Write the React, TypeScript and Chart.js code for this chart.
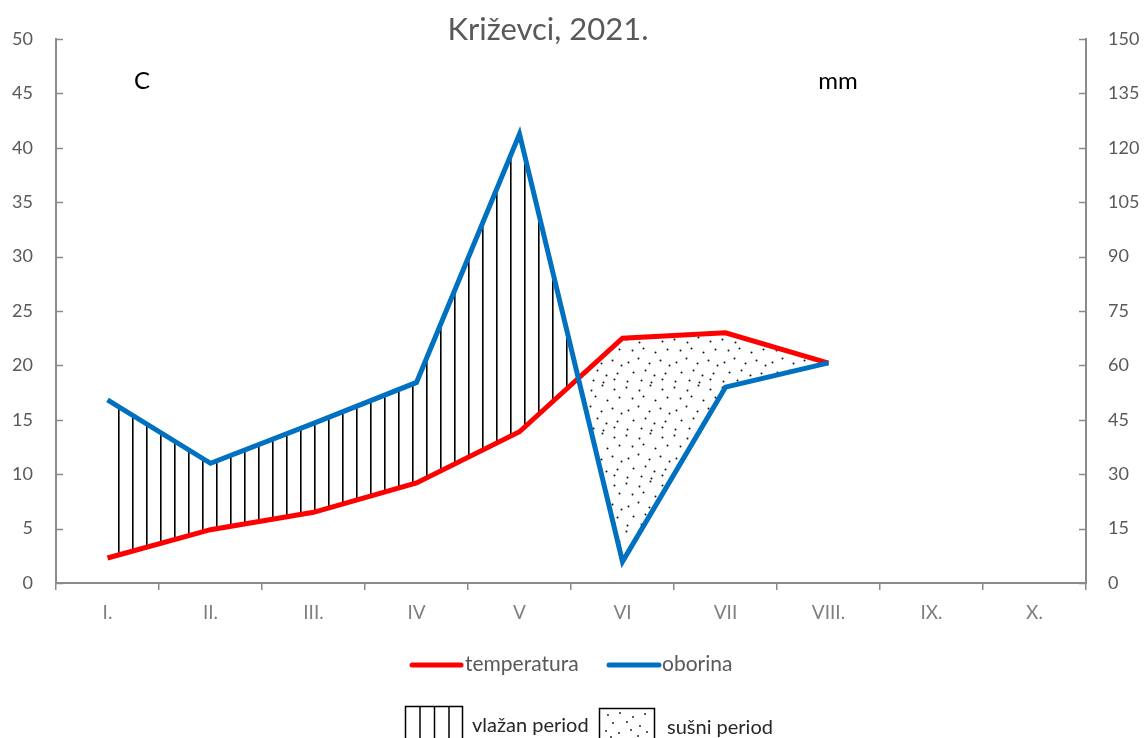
import React, { useEffect, useRef } from "react";
import { Chart, registerables } from "chart.js";

Chart.register(...registerables);

const months = ["I.", "II.", "III.", "IV", "V", "VI", "VII", "VIII.", "IX.", "X."];
const temperature = [2.3, 4.9, 6.5, 9.2, 13.9, 22.5, 23.0, 20.2, null, null];
const precipitation = [50.5, 33, 44, 55.3, 123.8, 5.9, 54, 60.7, null, null];
const tempAxis = { min: 0, max: 50, step: 5 };
const precAxis = { min: 0, max: 150, step: 15 };

const titleText = "Križevci, 2021.";
const leftUnit = "C";
const rightUnit = "mm";
const seriesNames = ["temperatura", "oborina"];
const periodNames = ["vlažan period", "sušni period"];

const FONT = "Lato, 'Open Sans', sans-serif";
const RED = "#FF0000";
const BLUE = "#0070C0";
const AXIS = "#8a8a8a";

const DOTS: [number, number][] = [
  [2, 3], [15, 6], [26, 1], [38, 5],
  [8, 14], [19, 12], [31, 16], [43, 13],
  [4, 26], [14, 22], [25, 27], [36, 24], [45, 29],
  [9, 36], [21, 34], [30, 39], [41, 37],
  [3, 45], [17, 44], [27, 46], [38, 43],
];

function makeLinePattern(ctx: CanvasRenderingContext2D) {
  const c = document.createElement("canvas");
  c.width = 14;
  c.height = 4;
  const g = c.getContext("2d")!;
  g.fillStyle = "#000";
  g.fillRect(6, 0, 1.6, 4);
  return ctx.createPattern(c, "repeat")!;
}

function makeDotPattern(ctx: CanvasRenderingContext2D) {
  const c = document.createElement("canvas");
  c.width = 48;
  c.height = 48;
  const g = c.getContext("2d")!;
  g.fillStyle = "#111";
  for (const [x, y] of DOTS) {
    g.beginPath();
    g.arc(x + 0.5, y + 0.5, 1, 0, Math.PI * 2);
    g.fill();
  }
  return ctx.createPattern(c, "repeat")!;
}

const decorPlugin = {
  id: "decor",
  afterDraw(chart: any) {
    const ctx: CanvasRenderingContext2D = chart.ctx;
    const area = chart.chartArea;
    ctx.save();
    // inward tick marks on y axes
    ctx.strokeStyle = AXIS;
    ctx.lineWidth = 1.5;
    const ys = chart.scales.y;
    for (const t of ys.ticks) {
      const py = Math.round(ys.getPixelForValue(t.value)) + 0.5;
      ctx.beginPath();
      ctx.moveTo(area.left, py);
      ctx.lineTo(area.left + 7, py);
      ctx.stroke();
    }
    const ys1 = chart.scales.y1;
    for (const t of ys1.ticks) {
      const py = Math.round(ys1.getPixelForValue(t.value)) + 0.5;
      ctx.beginPath();
      ctx.moveTo(area.right - 7, py);
      ctx.lineTo(area.right, py);
      ctx.stroke();
    }

    // title
    ctx.fillStyle = "#595959";
    ctx.font = `31px ${FONT}`;
    ctx.textAlign = "center";
    ctx.textBaseline = "middle";
    ctx.fillText(titleText, 548, 30);

    // unit labels
    ctx.fillStyle = "#000";
    ctx.font = `24px ${FONT}`;
    ctx.fillText(leftUnit, 142, 81);
    ctx.fillText(rightUnit, 838, 81);

    // series legend
    ctx.textAlign = "left";
    ctx.lineCap = "round";
    ctx.lineWidth = 5;
    ctx.strokeStyle = RED;
    ctx.beginPath();
    ctx.moveTo(412, 665);
    ctx.lineTo(461, 665);
    ctx.stroke();
    ctx.strokeStyle = BLUE;
    ctx.beginPath();
    ctx.moveTo(609, 665);
    ctx.lineTo(659, 665);
    ctx.stroke();
    ctx.fillStyle = "#595959";
    ctx.font = `21px ${FONT}`;
    ctx.fillText(seriesNames[0], 465, 664);
    ctx.fillText(seriesNames[1], 662, 664);

    // period legend
    ctx.lineCap = "butt";
    ctx.strokeStyle = "#000";
    ctx.lineWidth = 1.5;
    ctx.strokeRect(405.5, 706.5, 57, 40);
    for (const x of [420, 434.5, 449]) {
      ctx.beginPath();
      ctx.moveTo(x, 706.5);
      ctx.lineTo(x, 740);
      ctx.stroke();
    }
    ctx.strokeRect(599.5, 708.5, 55, 40);
    ctx.fillStyle = "#111";
    for (const [dx, dy] of [[8, 6], [20, 4], [33, 8], [45, 5], [13, 14], [27, 13], [40, 17], [6, 22], [19, 24], [31, 21], [47, 23], [11, 28], [38, 27]]) {
      ctx.beginPath();
      ctx.arc(600 + dx, 709 + dy, 0.9, 0, Math.PI * 2);
      ctx.fill();
    }
    ctx.fillStyle = "#262626";
    ctx.font = `20px ${FONT}`;
    ctx.fillText(periodNames[0], 472, 726);
    ctx.fillText(periodNames[1], 667, 728);
    ctx.restore();
  },
};

export default function App() {
  const ref = useRef<HTMLCanvasElement>(null);
  useEffect(() => {
    const canvas = ref.current!;
    const ctx = canvas.getContext("2d")!;
    const wet = makeLinePattern(ctx);
    const dry = makeDotPattern(ctx);
    const chart = new Chart(canvas, {
      type: "line",
      data: {
        labels: months,
        datasets: [
          {
            label: seriesNames[0],
            data: temperature,
            yAxisID: "y",
            borderColor: RED,
            backgroundColor: "transparent",
            borderWidth: 5,
            pointRadius: 0,
            tension: 0,
            fill: false,
            order: 1,
          },
          {
            label: seriesNames[1],
            data: precipitation,
            yAxisID: "y1",
            borderColor: BLUE,
            backgroundColor: "transparent",
            borderWidth: 5,
            pointRadius: 0,
            tension: 0,
            fill: { target: 0, above: wet, below: dry } as any,
            order: 0,
          },
        ],
      },
      options: {
        responsive: false,
        animation: false,
        layout: { padding: { top: 39, left: 0, right: 0, bottom: 0 } },
        plugins: {
          legend: { display: false },
          tooltip: { enabled: false },
          filler: { drawTime: "beforeDatasetsDraw" } as any,
        },
        scales: {
          x: {
            type: "category",
            offset: true,
            grid: {
              display: true,
              drawOnChartArea: false,
              drawTicks: true,
              tickLength: 7,
              offset: true,
              color: AXIS,
              lineWidth: 1.5,
            },
            border: { display: true, color: AXIS, width: 2 },
            ticks: {
              color: "#7f7f7f",
              font: { family: FONT, size: 19 },
              padding: 11,
              maxRotation: 0,
              autoSkip: false,
            },
            afterFit: (s: any) => {
              s.height = 155;
            },
          },
          y: {
            position: "left",
            min: tempAxis.min,
            max: tempAxis.max,
            ticks: {
              stepSize: tempAxis.step,
              color: "#595959",
              font: { family: FONT, size: 18 },
              padding: 23,
            },
            grid: { display: false, drawTicks: false },
            border: { display: true, color: AXIS, width: 2 },
            afterFit: (s: any) => {
              s.width = 56;
            },
          },
          y1: {
            position: "right",
            min: precAxis.min,
            max: precAxis.max,
            ticks: {
              stepSize: precAxis.step,
              color: "#595959",
              font: { family: FONT, size: 18 },
              padding: 22,
            },
            grid: { display: false, drawTicks: false },
            border: { display: true, color: AXIS, width: 2 },
            afterFit: (s: any) => {
              s.width = 60;
            },
          },
        },
      },
      plugins: [decorPlugin],
    });
    return () => chart.destroy();
  }, []);
  return (
    <div style={{ position: "fixed", left: 0, top: 0, width: 1146, height: 738, background: "#fff" }}>
      <canvas ref={ref} width={1146} height={738} style={{ width: 1146, height: 738, display: "block" }} />
    </div>
  );
}
